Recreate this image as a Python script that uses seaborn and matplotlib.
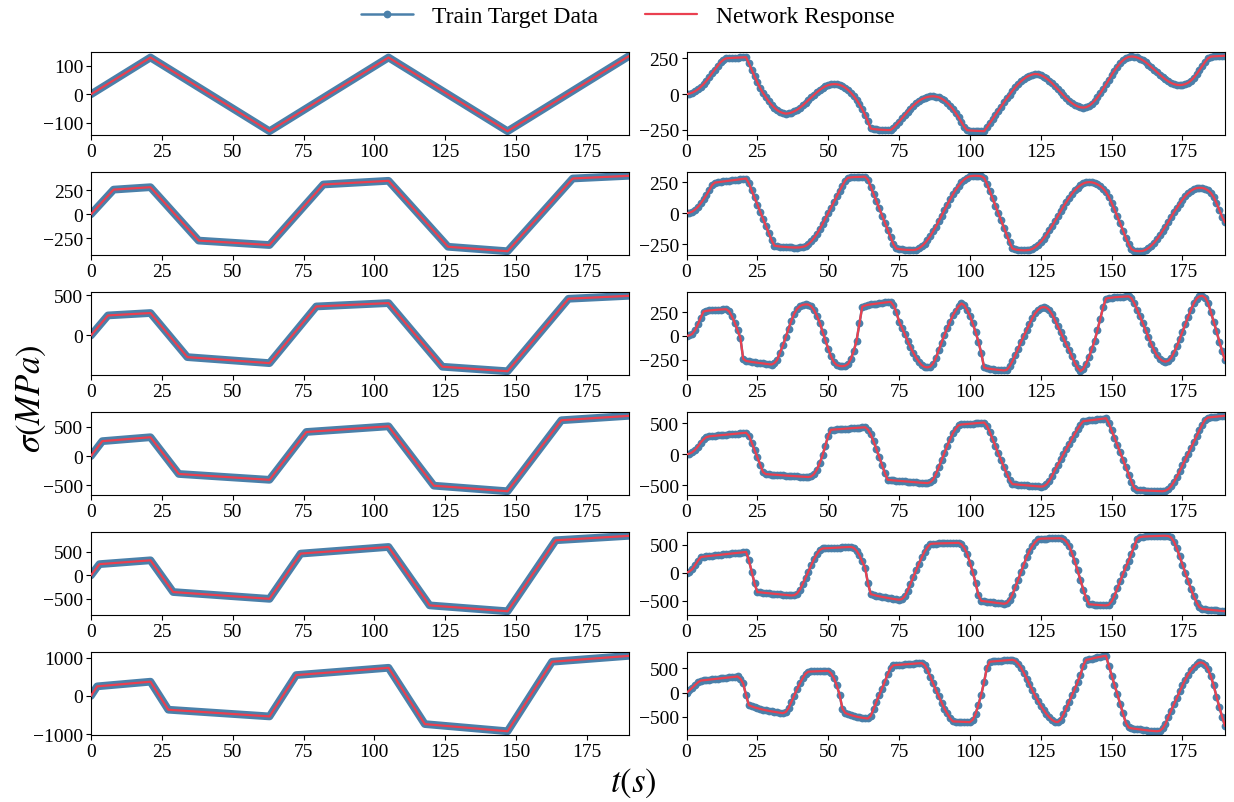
import numpy as np
import matplotlib
matplotlib.use("Agg")
import matplotlib.pyplot as plt
from matplotlib.lines import Line2D
from matplotlib.ticker import MaxNLocator
import seaborn as sns

# ----------------------------------------
# Style
# ----------------------------------------
sns.set_style("ticks", rc={"axes.edgecolor": "black", "xtick.color": "black",
                           "ytick.color": "black", "text.color": "black"})
plt.rcParams["font.family"] = ["Liberation Serif", "DejaVu Serif"]
plt.rcParams["mathtext.fontset"] = "stix"

BLUE = "#4a80aa"
RED = "#ea4050"

# ----------------------------------------
# Data: left column (triangular loading), corner points of stress path
# ----------------------------------------
left1_t = [0, 21, 63, 105, 147, 190]
left1_s = [0, 130, -130, 130, -130, 136]

left2_t = [0, 8, 21, 38, 63, 82, 105, 126, 147, 170, 190]
left2_s = [0, 255, 280, -272, -318, 308, 346, -336, -382, 370, 398]

left3_t = [0, 6, 21, 34, 63, 79.5, 105, 124, 147, 168.5, 190]
left3_s = [0, 250, 280, -270, -345, 362, 404, -390, -446, 458, 495]

left4_t = [0, 4, 21, 31, 63, 76, 105, 121, 147, 166, 190]
left4_s = [0, 255, 322, -305, -405, 412, 508, -505, -600, 612, 688]

left5_t = [0, 3, 21, 29, 63, 74, 105, 119.5, 147, 164, 190]
left5_s = [0, 240, 322, -355, -500, 465, 607, -640, -765, 750, 845]

left6_t = [0, 2.2, 21, 27.3, 63, 72.4, 105, 117.8, 147, 162.7, 190]
left6_s = [0, 250, 372, -362, -537, 545, 736, -738, -926, 895, 1050]

# ----------------------------------------
# Data: right column (cyclic loading), stress sampled every 1 s
# ----------------------------------------
right1_s = [0, 3, 10, 20, 33, 50, 70, 93, 118, 145, 172, 198, 222, 240, 250,
            252, 253, 254, 255, 256, 257, 258,
            215, 170, 125, 82, 42, 8, -22, -50, -74, -95, -112, -124, -132, -136,
            -134, -129, -120, -109, -95, -79, -61, -42, -23, -5, 13, 29, 43, 55, 63, 68, 70,
            69, 65, 57, 45, 29, 10, -13, -40, -71, -106, -145, -190, -240,
            -244, -246, -248, -249, -250, -251, -251,
            -235, -215, -193, -170, -146, -123, -101, -81, -63, -48, -35, -26, -20, -16, -15,
            -17, -22, -31, -44, -60, -80, -104, -132, -163, -196, -228, -252,
            -254, -255, -256, -257, -258, -259,
            -232, -203, -174, -145, -116, -87, -58, -30, -3, 23, 47, 69, 89, 106, 120, 130, 137, 141,
            139, 133, 123, 110, 94, 76, 55, 34, 13, -9, -29, -47, -63, -76, -86, -92, -94,
            -91, -82, -67, -47, -23, 5, 36, 68, 101, 133, 164, 192, 216, 236, 251, 260, 263,
            261, 256, 248, 237, 223, 207, 190, 172, 154, 136, 119, 103, 89, 78, 70, 65, 63,
            65, 70, 80, 95, 115, 140, 168, 197, 226, 250, 262, 264, 265, 266, 267, 268]

right2_s = [0, 3, 12, 28, 50, 78, 110, 145, 184, 225,
            246, 249, 252, 255, 258, 261, 264, 267, 270, 273, 276, 279,
            240, 183, 126, 69, 12, -45, -102, -159, -216,
            -262, -266, -269, -271, -273, -275, -276, -277, -277, -276, -272,
            -265, -250, -228, -200, -168, -130, -88, -44, 0, 45, 90, 135, 180, 222, 262,
            285, 288, 290, 291, 292, 293, 294,
            270, 212, 154, 96, 38, -20, -78, -136, -194, -250,
            -285, -290, -293, -295, -296, -297, -297,
            -294, -284, -267, -245, -217, -185, -148, -108, -65, -21, 24, 68, 111, 151, 188,
            220, 248, 271, 287, 297, 300,
            301, 300, 297, 285, 235, 177, 118, 60, 1, -58, -117, -176, -235, -285,
            -293, -297, -299, -300, -299,
            -297, -289, -275, -256, -233, -205, -174, -139, -103, -64, -25, 14, 53, 89, 124,
            155, 183, 206, 225, 239, 247, 250,
            248, 242, 232, 218, 198, 170, 130, 82, 30, -25, -82, -140, -198, -250, -290,
            -302, -306, -307,
            -304, -296, -282, -262, -239, -211, -179, -144, -108, -70, -32, 6, 42, 77, 109,
            137, 160, 180, 194, 202, 205,
            203, 196, 183, 163, 130, 80, 25, -30, -75]

right3_s = [0, 5, 20, 60, 120, 190, 255, 262, 266, 269, 272, 274, 276, 278, 279,
            258, 205, 140, 60, -20,
            -240, -262, -268, -273, -277, -281, -285, -289, -293, -297, -300,
            -285, -250, -175, -100, -15, 75, 160, 232, 282, 312, 325,
            330, 328, 310, 270, 210, 140, 45, -45, -135, -215, -275, -305, -315, -318, -312,
            -295, -240, -160, -50, 130,
            305, 318, 325, 330, 334, 338, 342, 346, 350, 354, 357,
            320, 255, 150, 85, 20, -50, -115, -175, -228, -270, -305, -325, -330,
            -322, -290, -230, -150, -70, 10, 80, 150, 215, 265, 310, 340,
            320, 270, 210, 130, 40, -60, -180,
            -330, -340, -345, -349, -352, -355, -358, -362,
            -355, -320, -265, -200, -135, -65, 0, 60, 125, 185, 235, 270, 295, 302,
            295, 270, 225, 165, 100, 40, -25, -90, -150, -215, -280, -335, -370,
            -345, -290, -220, -140, -50, 60, 180, 300,
            390, 397, 401, 404, 407, 409, 411, 413, 414,
            395, 340, 275, 205, 135, 60, -15, -85, -150, -205, -240, -262, -270,
            -260, -230, -175, -110, -35, 45, 120, 200, 275, 340, 390, 415, 420,
            400, 345, 250, 150, 50, -60, -160, -255]

right4_s = [0, 8, 30, 70, 125, 190, 240, 275,
            290, 295, 300, 304, 308, 313, 317, 322, 326, 331, 335, 340, 344, 349,
            300, 190, 70, -50, -170, -290,
            -322, -326, -329, -332, -336, -339, -342, -346, -349, -352, -356, -359, -362,
            -365, -368, -370,
            -360, -320, -250, -145, -20, 140, 300,
            395, 400, 403, 407, 410, 414, 417, 421, 424, 428, 431, 434, 437,
            400, 320, 210, 85, -45, -175, -305,
            -415, -420, -424, -428, -432, -436, -440, -444, -448, -452, -456, -460, -463,
            -466, -468,
            -455, -410, -320, -210, -95, 20, 135, 245, 340, 415, 470,
            482, 486, 490, 494, 498, 502, 506, 510, 514,
            460, 360, 245, 130, 15, -95, -205, -315, -420,
            -485, -489, -493, -497, -501, -505, -509, -513, -517, -521, -525,
            -520, -490, -430, -350, -255, -170, -85, 0, 85, 165, 250, 330, 410, 480, 535,
            541, 547, 553, 559, 565, 571, 577, 583,
            500, 385, 270, 150, 30, -90, -210, -330, -445, -545, -582,
            -584, -586, -588, -590, -592, -594, -596, -598, -600,
            -590, -565, -520, -450, -365, -275, -180, -85, 10, 105, 200, 295, 390, 480, 560, 595,
            600, 605, 610, 614, 619, 623]

right5_s = [0, 20, 60, 131, 210, 275,
            285, 291, 296, 302, 307, 313, 318, 324, 330, 335, 341, 346, 352, 357, 363, 369,
            220, 20, -190,
            -345, -350, -355, -360, -365, -370, -375, -380, -385, -390, -395, -400, -405,
            -400, -370, -300, -200, -90, 20, 130, 240, 330, 400, 430,
            433, 436, 439, 441, 444, 447, 450, 452, 455, 458,
            440, 390, 310, 200, 90, -180,
            -380, -395, -408, -420, -430, -440, -450, -458, -466, -474, -480,
            -470, -420, -320, -200, -80, 40, 160, 270, 370, 450, 510,
            516, 518, 519, 521, 522, 524, 525, 527, 528, 530,
            505, 440, 340, 180, 10, -180, -400, -500,
            -507, -514, -521, -527, -533, -540, -546, -552,
            -540, -480, -390, -260, -125, 10, 145, 275, 385, 470, 540, 590, 605,
            606, 607, 608, 609, 610, 611, 612,
            595, 550, 470, 350, 200, 40, -130, -300, -450, -560,
            -565, -569, -573, -576, -579, -582, -570,
            -510, -410, -280, -150, -25, 100, 215, 340, 470, 600, 630,
            640, 643, 646, 648, 650, 652, 654, 655, 655, 650,
            625, 550, 430, 290, 140, -5, -150, -290, -420, -530, -615, -645,
            -650, -655, -660, -665, -670, -675, -680, -685]

right6_s = [0, 45, 100, 155, 210,
            250, 256, 263, 269, 276, 282, 289, 295, 302, 308, 315, 321, 328, 334,
            290, 190, -50,
            -260, -285, -305, -322, -338, -352, -365, -377, -388, -398, -408, -417, -425,
            -400, -320, -190, -60, 70, 190, 300, 390, 435,
            438, 440, 442, 444, 446, 448, 450,
            400, 300, 150, -40, -330, -420,
            -445, -465, -482, -497, -510, -520, -528, -535,
            -480, -340, -190, -50, 85, 230, 380, 510, 565,
            572, 576, 581, 585, 590, 594, 599, 603, 607, 611,
            570, 470, 330, 190, 55, -75, -210, -330, -430, -530, -595,
            -598, -601, -604, -606, -609, -611,
            -560, -440, -250, -40, 220, 520,
            640, 645, 650, 655, 660, 665, 670, 675, 680,
            660, 600, 520, 410, 290, 170, 50, -65, -170, -270, -360, -440, -510, -565, -600, -610,
            -560, -450, -320, -185, -55, 75, 215, 370, 560, 680,
            690, 705, 718, 730, 742, 754, 762,
            560, 350, 160, -30, -230, -430, -620, -720,
            -738, -746, -754, -762, -770, -777, -784, -790, -795, -799,
            -790, -740, -650, -500, -370, -240, -105, 25, 150, 270, 375, 460, 530, 590, 625, 620,
            580, 480, 340, 150, -80, -300, -500, -690]

left_panels = [(left1_t, left1_s), (left2_t, left2_s), (left3_t, left3_s),
               (left4_t, left4_s), (left5_t, left5_s), (left6_t, left6_s)]
right_panels = [right1_s, right2_s, right3_s, right4_s, right5_s, right6_s]

# ----------------------------------------
# Figure
# ----------------------------------------
fig, axes = plt.subplots(6, 2, figsize=(12.34, 8.03), dpi=100)
fig.subplots_adjust(left=0.0737, right=0.9927, top=0.934, bottom=0.0834,
                    wspace=0.106, hspace=0.446)

for i in range(6):
    # left: dense target samples form a solid band
    ax = axes[i, 0]
    t, s = left_panels[i]
    sns.lineplot(x=t, y=s, ax=ax, color=BLUE, linewidth=5.6,
                 solid_joinstyle="round", solid_capstyle="round", zorder=2)
    sns.lineplot(x=t, y=s, ax=ax, color=RED, linewidth=1.6, zorder=3)

    # right: target with markers, network response on top
    ax = axes[i, 1]
    s = right_panels[i]
    t = np.arange(len(s))
    sns.lineplot(x=t, y=s, ax=ax, color=BLUE, linewidth=1.8, marker="o",
                 markersize=5.6, markeredgewidth=0, zorder=2)
    sns.lineplot(x=t, y=s, ax=ax, color=RED, linewidth=1.6, zorder=3)

for ax in axes.flat:
    ax.set_xlim(0, 190)
    ax.set_xticks(np.arange(0, 190, 25))
    ax.yaxis.set_major_locator(MaxNLocator(4, steps=[1, 2.5, 5, 10]))
    ax.tick_params(labelsize=14, length=3.5, pad=2)
    ax.set_xlabel("")
    ax.set_ylabel("")

handles = [Line2D([], [], color=BLUE, linewidth=1.8, marker="o", markersize=5.6,
                  markeredgewidth=0),
           Line2D([], [], color=RED, linewidth=1.6)]
fig.legend(handles, ["Train Target Data", "Network Response"], loc="center",
           bbox_to_anchor=(0.509, 0.978), ncol=2, frameon=False, fontsize=17,
           columnspacing=2.0, handlelength=2.2)

fig.text(0.025, 0.503, r"$\sigma(MPa)$", rotation=90, fontsize=25,
         ha="center", va="center")
fig.text(0.513, 0.025, r"$t(s)$", fontsize=25, ha="center", va="center")

fig.savefig("out.png", dpi=100)
